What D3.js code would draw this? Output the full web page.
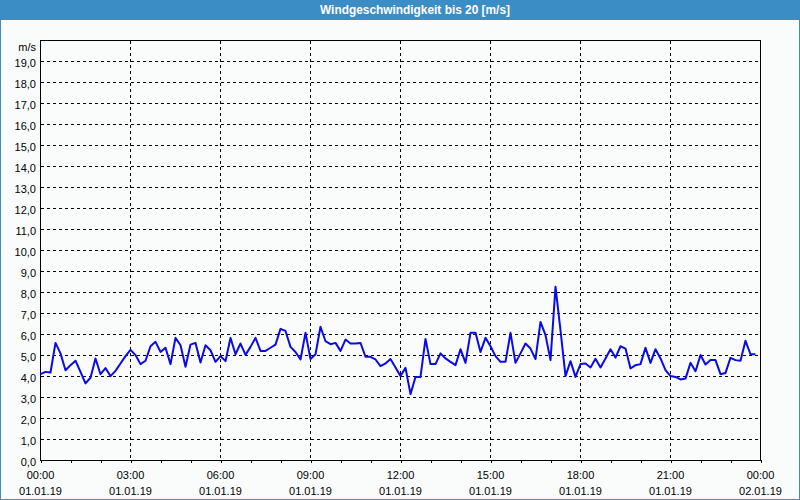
<!DOCTYPE html>
<html>
<head>
<meta charset="utf-8">
<script src="https://cdn.jsdelivr.net/npm/d3@7"></script>
<style>
  html, body { margin: 0; padding: 0; background: #fafcfc; }
  svg { display: block; }
  text { font-family: "Liberation Sans", Arial, sans-serif; }
</style>
</head>
<body>
<svg id="chart" width="800" height="500"></svg>
<script>
// ---- data ----
const chartTitle = "Windgeschwindigkeit bis 20 [m/s]";
const yUnit = "m/s";
const startTime = "2019-01-01T00:00:00Z";
const endTime = "2019-01-02T00:00:00Z";
const intervalMinutes = 10;
const windSpeed = [
  4.11, 4.22, 4.19, 5.60, 5.10, 4.30, 4.54, 4.75, 4.22, 3.67,
  3.94, 4.86, 4.11, 4.40, 4.02, 4.27, 4.62, 4.97, 5.27, 5.02,
  4.59, 4.75, 5.44, 5.65, 5.17, 5.37, 4.59, 5.84, 5.49, 4.46,
  5.52, 5.60, 4.67, 5.49, 5.25, 4.70, 4.97, 4.73, 5.84, 5.06,
  5.57, 5.03, 5.41, 5.84, 5.22, 5.22, 5.37, 5.52, 6.27, 6.17,
  5.41, 5.17, 4.81, 6.08, 4.83, 5.06, 6.37, 5.68, 5.54, 5.60,
  5.22, 5.76, 5.57, 5.57, 5.60, 4.94, 4.94, 4.81, 4.49, 4.62,
  4.83, 4.43,
  4.02, 4.41, 3.16, 3.98, 3.98, 5.79, 4.59, 4.59, 5.10, 4.86,
  4.70, 4.54, 5.30, 4.65, 6.08, 6.08, 5.17, 5.84, 5.44, 4.97,
  4.70, 4.70, 6.08, 4.65, 5.10, 5.57, 5.33, 4.83, 6.60, 5.97,
  4.78, 8.27, 6.20, 4.02, 4.73, 3.98, 4.59, 4.62, 4.43, 4.84,
  4.43, 4.86, 5.30, 4.90, 5.44, 5.33, 4.38, 4.54, 4.59, 5.37,
  4.65, 5.30, 4.86, 4.30, 4.02, 3.98, 3.86, 3.90, 4.65, 4.25,
  5.02, 4.57, 4.78, 4.78, 4.11, 4.17, 4.89, 4.78, 4.75, 5.70,
  5.06, 5.06
];
const xTickTimes = ["00:00","03:00","06:00","09:00","12:00","15:00","18:00","21:00","00:00"];
const xTickDates = ["01.01.19","01.01.19","01.01.19","01.01.19","01.01.19","01.01.19","01.01.19","01.01.19","02.01.19"];
const yMin = 0, yMax = 20;

// ---- layout ----
(function () {
const svg = d3.select("#chart");
const W = 800, H = 500;
const pL = 40.5, pR = 760.5, pT = 40.5, pB = 460.5;
const barColor = "#3b8dc5";

svg.append("rect").attr("x", 0).attr("y", 0).attr("width", W).attr("height", H).attr("fill", "#fafcfc");
// border
svg.append("rect").attr("x", 0.5).attr("y", 0.5).attr("width", W - 1).attr("height", H - 1)
  .attr("fill", "none").attr("stroke", barColor).attr("stroke-width", 1);
// title bar
svg.append("rect").attr("x", 0).attr("y", 0).attr("width", W).attr("height", 20).attr("fill", barColor);
svg.append("text").attr("x", 415).attr("y", 10).attr("text-anchor", "middle")
  .attr("dominant-baseline", "central").attr("fill", "#ffffff")
  .attr("font-size", "12px").attr("font-weight", "bold")
  .attr("textLength", 190).attr("lengthAdjust", "spacingAndGlyphs")
  .text(chartTitle);

const t0 = new Date(startTime), t1 = new Date(endTime);
const x = d3.scaleUtc().domain([t0, t1]).range([pL, pR]);
const y = d3.scaleLinear().domain([yMin, yMax]).range([pB, pT]);

const points = windSpeed.map((v, i) => ({ t: d3.utcMinute.offset(t0, i * intervalMinutes), v }));

// grid
const grid = svg.append("g").attr("shape-rendering", "crispEdges");
const yGridVals = d3.range(yMin + 1, yMax);
grid.selectAll("line.hy").data(yGridVals).join("line")
  .attr("x1", pL).attr("x2", pR)
  .attr("y1", d => y(d)).attr("y2", d => y(d))
  .attr("stroke", "#000").attr("stroke-dasharray", "3,3");
const xGridVals = d3.utcHour.every(3).range(d3.utcHour.offset(t0, 3), t1);
grid.selectAll("line.vx").data(xGridVals).join("line")
  .attr("y1", pT).attr("y2", pB)
  .attr("x1", d => x(d)).attr("x2", d => x(d))
  .attr("stroke", "#000").attr("stroke-dasharray", "3,3");

// x axis ticks (hourly, outside)
const xAxis = d3.axisBottom(x).ticks(d3.utcHour.every(1)).tickSize(3).tickFormat("");
const xg = svg.append("g").attr("transform", `translate(0,${pB - 0.5})`).call(xAxis);
xg.select(".domain").remove();
xg.selectAll("line").attr("stroke", "#000").attr("shape-rendering", "crispEdges");

// x labels
const xLabelTimes = d3.utcHour.every(3).range(t0, d3.utcHour.offset(t1, 1));
const xl = svg.append("g");
xl.selectAll("text.t").data(xLabelTimes).join("text").attr("class", "t")
  .attr("x", d => x(d)).attr("y", 475).attr("text-anchor", "middle")
  .attr("dominant-baseline", "central").attr("font-size", "11px").attr("fill", "#000")
  .text((d, i) => xTickTimes[i]);
xl.selectAll("text.d").data(xLabelTimes).join("text").attr("class", "d")
  .attr("x", d => x(d)).attr("y", 491).attr("text-anchor", "middle")
  .attr("dominant-baseline", "central").attr("font-size", "11px").attr("fill", "#000")
  .text((d, i) => xTickDates[i]);

// y labels
const yLabelVals = d3.range(yMin, yMax);
svg.append("g").selectAll("text").data(yLabelVals).join("text")
  .attr("x", 36).attr("y", d => y(d) + 1).attr("text-anchor", "end")
  .attr("dominant-baseline", "central").attr("font-size", "11px").attr("fill", "#000")
  .text(d => d3.format(".1f")(d).replace(".", ","));
svg.append("text").attr("x", 36).attr("y", 47).attr("text-anchor", "end")
  .attr("dominant-baseline", "central").attr("font-size", "11px").attr("fill", "#000")
  .text(yUnit);

// frame
svg.append("rect").attr("x", pL).attr("y", pT).attr("width", pR - pL).attr("height", pB - pT)
  .attr("fill", "none").attr("stroke", "#000").attr("shape-rendering", "crispEdges");

// line
const line = d3.line().x(d => x(d.t)).y(d => y(d.v));
svg.append("path").datum(points).attr("d", line)
  .attr("fill", "none").attr("stroke", "#0a0ae6").attr("stroke-width", 2)
  .attr("stroke-linejoin", "round");
})();
</script>
</body>
</html>
